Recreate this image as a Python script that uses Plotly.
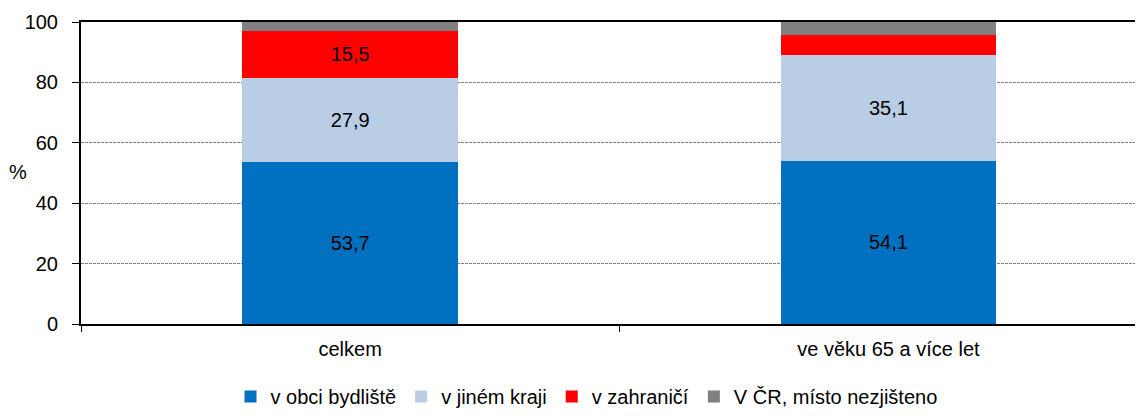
import plotly.graph_objs as go

categories = ['celkem', 've věku 65 a více let']

v_obci = [53.7, 54.1]
jiny_kraj = [27.9, 35.1]
zahranici = [15.5, 6.6]
nezjisteno = [2.9, 4.2]

# which segments get a value label
show_obci = [True, True]
show_kraj = [True, True]
show_zahr = [True, False]
show_nez = [False, False]


def labels(vals, show):
    return [f'{v:.1f}'.replace('.', ',') if s else '' for v, s in zip(vals, show)]


font = 'Liberation Sans, Arial, sans-serif'

series = [
    ('v obci bydliště', v_obci, show_obci, '#0070C0'),
    ('v jiném kraji', jiny_kraj, show_kraj, '#B9CDE5'),
    ('v zahraničí', zahranici, show_zahr, '#FF0000'),
    ('V ČR, místo nezjišteno', nezjisteno, show_nez, '#808080'),
]

data = []
for name, vals, show, color in series:
    data.append(go.Bar(x=categories,
                       y=vals,
                       name=name,
                       marker=dict(color=color, line=dict(width=0)),
                       width=0.4,
                       text=labels(vals, show),
                       textposition='inside',
                       insidetextanchor='middle',
                       textangle=0,
                       textfont=dict(color='black', size=20, family=font),
                       hoverinfo='y+name'))

# the page body has an 8px margin, so the figure is shrunk by that much
layout = go.Layout(
    template='none',
    barmode='stack',
    width=1135, height=408,
    margin=dict(l=73, r=0, t=14, b=92, autoexpand=False),
    paper_bgcolor='white', plot_bgcolor='white',
    font=dict(family=font, size=20, color='black'),
    showlegend=True,
    legend=dict(orientation='h', x=0.476, xanchor='center',
                yref='container', y=-0.015, yanchor='bottom',
                font=dict(size=20), itemwidth=30, tracegroupgap=0, traceorder='normal'),
    xaxis=dict(type='category', range=[-0.5, 1.473], automargin=False,
               showline=True, linecolor='black', linewidth=2, mirror=True,
               ticks='outside', ticklen=6, tickcolor='black', tickwidth=1,
               tickson='boundaries', showgrid=False, ticklabelstandoff=6),
    yaxis=dict(range=[0, 100], tickvals=[0, 20, 40, 60, 80, 100], automargin=False,
               showline=True, linecolor='black', linewidth=2,
               ticks='outside', ticklen=7, tickcolor='black', tickwidth=1,
               showgrid=True, gridcolor='#7f7f7f', gridwidth=1, griddash='3px,1px',
               zeroline=False, ticklabelstandoff=10),
    annotations=[dict(text='%', x=(18 - 81) / 1062, y=(324 - 172) / 302,
                      xref='paper', yref='paper', xanchor='center', yanchor='middle',
                      showarrow=False, font=dict(size=20))],
)

fig = go.Figure(data=data, layout=layout)

fig.write_html('out.html')
